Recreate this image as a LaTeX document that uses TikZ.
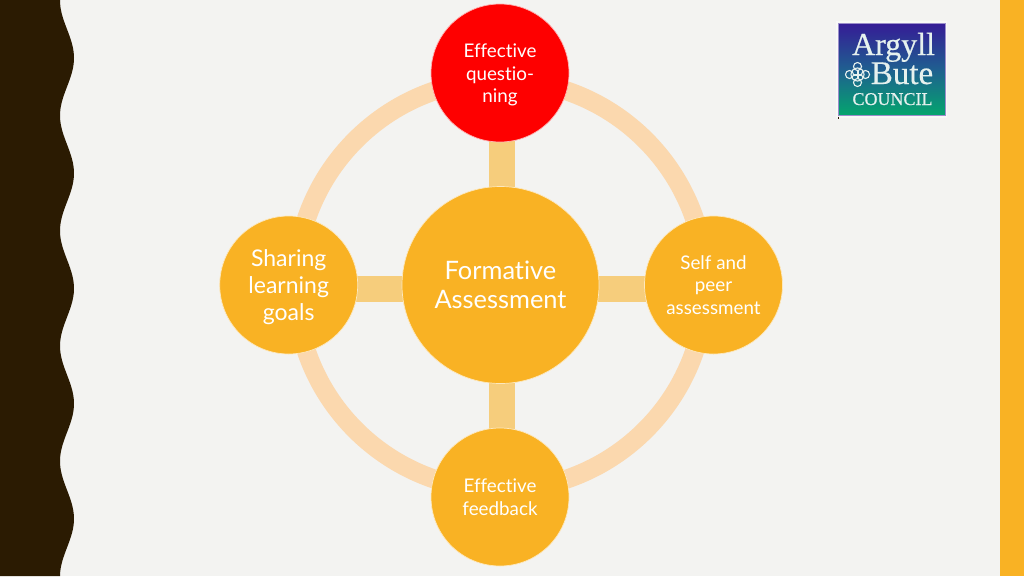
\documentclass[tikz,border=0pt]{standalone}
\usepackage{fontspec}
\setmainfont[Ligatures=NoCommon]{Lato}
\newfontfamily\logofont[FakeBold=0.5]{Liberation Serif}
\usetikzlibrary{backgrounds}
\definecolor{PAPER}{HTML}{F3F3F1}
\definecolor{DARK}{HTML}{2B1B02}
\definecolor{AMBER}{HTML}{F9B224}
\definecolor{SPOKE}{HTML}{F6CD7C}
\definecolor{RING}{HTML}{FBD8AE}
\definecolor{RED}{HTML}{FE0000}
\definecolor{LOGOTOP}{HTML}{351C96}
\definecolor{LOGOMID}{HTML}{1F5F90}
\definecolor{LOGOLOW}{HTML}{04A56E}
\definecolor{LOGOINK}{HTML}{E6F1EE}

\begin{document}
\begin{tikzpicture}[x=1pt,y=-1pt]
\tikzstyle{bubble}=[circle,inner sep=0pt,text=white,align=center,draw=white!70!AMBER,line width=.7pt,fill=AMBER]
\tikzstyle{small bubble}=[bubble,minimum size=138pt,font=\fontsize{18.8}{22.5}\selectfont]
\tikzstyle{spoke}=[draw=SPOKE,line width=26pt]
\tikzstyle{logotext}=[text=LOGOINK,inner sep=0pt,anchor=base]
\newcommand{\pushdown}[1]{\rule{0pt}{#1pt}}
\useasboundingbox (0,0) rectangle (1024,576);

\node[bubble,minimum size=197pt,font=\fontsize{25.4}{29}\selectfont] (centreNode) at (500.5,285) {Formative\\Assessment};
\node[small bubble,fill=RED,draw=white!70!RED] (topNode) at (500,73) {\pushdown{18}Effective\\questio-\\ning};
\node[small bubble,font=\fontsize{23}{27}\selectfont] (leftNode) at (288.7,285) {\pushdown{21}Sharing\\learning\\goals};
\node[small bubble] (rightNode) at (713.5,285) {Self and\\peer\\assessment};
\node[small bubble] (bottomNode) at (500,497) {Effective\\feedback};

\begin{scope}[on background layer]
\fill[PAPER] (0,0) rectangle (1024,576);
\fill[DARK] (0,0) -- plot[domain=0:576,samples=160,smooth] ({67+7*sin((\x-29.2)*3.125)},\x) -- (0,576) -- cycle;
\fill[AMBER] (1000,0) rectangle (1024,576);
\draw[RING,line width=19pt] (centreNode.center) circle (205);
\foreach \n in {topNode,bottomNode}
    \draw[spoke] ([xshift=1.5pt]centreNode.center) -- ([xshift=2pt]\n.center);
\foreach \n in {leftNode,rightNode}
    \draw[spoke] ([yshift=-4pt]centreNode.center) -- ([yshift=-4pt]\n.center);
\end{scope}

%% logo
\fill[white!45!PAPER] (836,21) rectangle (947,118);
\draw[draw=LOGOTOP!50!white,line width=.6pt,top color=LOGOTOP,bottom color=LOGOLOW,middle color=LOGOMID] (838.5,23.5) rectangle (945,115);
\node[logotext,font=\logofont\fontsize{32}{32}\selectfont] (logoArgyll) at (893.5,55) {Argyll};
\node[logotext,font=\logofont\fontsize{33}{33}\selectfont] (logoBute) at (902,84) {Bute};
\node[logotext,font=\logofont\fontsize{18}{18}\selectfont] (logoCouncil) at (892.5,105) {COUNCIL};
\draw[LOGOINK,line width=1.1pt] (857.5,74.5) circle (6.5);
\foreach \a in {0,90,180,270}
    \draw[LOGOINK,line width=1.1pt] (857.5,74.5) ++(\a:8) circle (4);
\draw[LOGOINK,line width=2pt] (853,74.5) -- (862,74.5) (857.5,70) -- (857.5,79);
\draw[DARK,line width=.5pt] (838.5,116.5) -- (838.5,119);
\end{tikzpicture}
\end{document}
